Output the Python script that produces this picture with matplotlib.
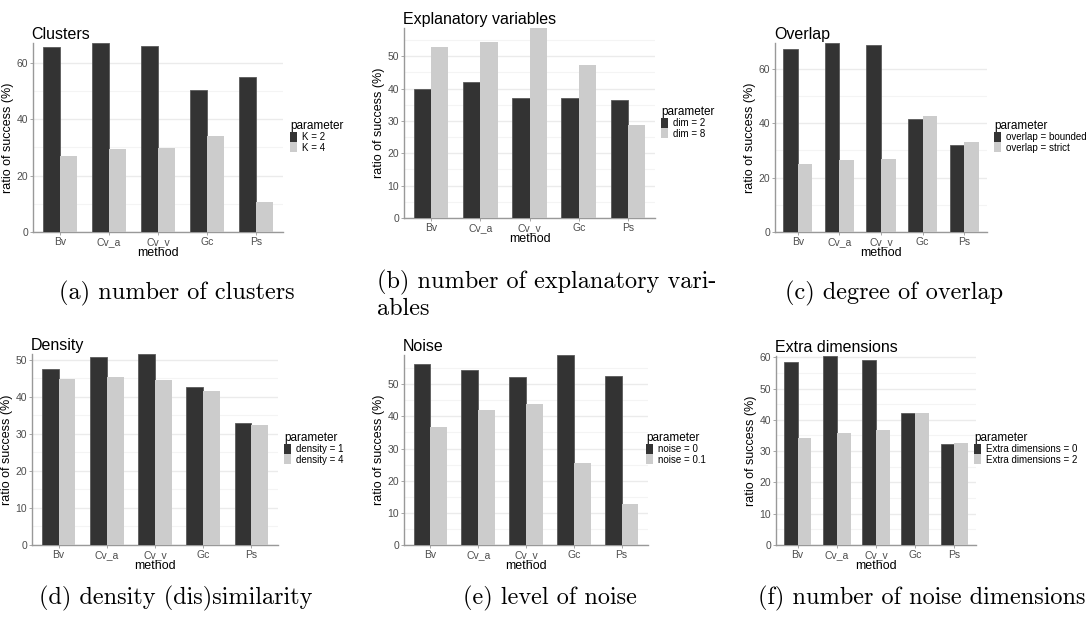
import numpy as np
import matplotlib
matplotlib.use("Agg")
import matplotlib.pyplot as plt
from matplotlib.patches import Patch
from matplotlib.ticker import MultipleLocator

methods = ["Bv", "Cv_a", "Cv_v", "Gc", "Ps"]

# values (ratio of success, %)
clusters_k2 = [65.7, 67.0, 66.1, 50.4, 54.8]
clusters_k4 = [26.9, 29.3, 29.9, 34.0, 10.6]
expl_dim2 = [39.7, 42.0, 37.2, 37.2, 36.6]
expl_dim8 = [52.8, 54.4, 58.7, 47.2, 28.8]
overlap_bounded = [67.2, 69.4, 68.8, 41.5, 32.1]
overlap_strict = [24.9, 26.5, 26.7, 42.7, 33.0]
density_1 = [47.5, 50.9, 51.6, 42.8, 32.9]
density_4 = [44.9, 45.4, 44.5, 41.6, 32.5]
noise_0 = [56.2, 54.5, 52.4, 59.1, 52.6]
noise_01 = [36.6, 42.0, 43.9, 25.6, 12.8]
extra_0 = [58.4, 60.4, 59.2, 42.2, 32.4]
extra_2 = [34.1, 35.9, 36.9, 42.2, 32.7]

panels = [
    ("Clusters", ["K = 2", "K = 4"], clusters_k2, clusters_k4, 20,
     "(a) number of clusters"),
    ("Explanatory variables", ["dim = 2", "dim = 8"], expl_dim2, expl_dim8, 10,
     "(b) number of explanatory vari-\nables"),
    ("Overlap", ["overlap = bounded", "overlap = strict"], overlap_bounded,
     overlap_strict, 20, "(c) degree of overlap"),
    ("Density", ["density = 1", "density = 4"], density_1, density_4, 10,
     "(d) density (dis)similarity"),
    ("Noise", ["noise = 0", "noise = 0.1"], noise_0, noise_01, 10,
     "(e) level of noise"),
    ("Extra dimensions", ["Extra dimensions = 0", "Extra dimensions = 2"],
     extra_0, extra_2, 10, "(f) number of noise dimensions"),
]

W, H = 1092, 617
# axes boxes in pixels: left, top, right, bottom
boxes = [(33, 43, 283, 232), (404, 28, 655, 218), (775, 43, 987, 232),
         (32, 354, 278, 545), (404, 355, 648, 545), (776, 356, 976, 545)]
legend_pos = [(290, 120), (661, 106), (994, 120),
              (284, 432), (646, 432), (974, 432)]
caption_pos = [(177, 293, "center"), (377, 295, "left"), (894, 293, "center"),
               (176, 598, "center"), (550, 598, "center"), (922, 598, "center")]

DARK = "#333333"
LIGHT = "#CCCCCC"
GRID = "#EBEBEB"
SANS = "Liberation Sans"

fig = plt.figure(figsize=(W / 100, H / 100), dpi=100)

for (title, labels, s1, s2, major, caption), box, lp, cp in zip(
        panels, boxes, legend_pos, caption_pos):
    l, t, r, b = box
    ax = fig.add_axes([l / W, 1 - b / H, (r - l) / W, (b - t) / H])
    x = np.arange(len(methods))
    w = 0.35
    ax.bar(x - w / 2, s1, w, color=DARK, edgecolor="#5a5a5a", linewidth=0.6,
           zorder=3)
    ax.bar(x + w / 2, s2, w, color=LIGHT, edgecolor="none", zorder=3)

    top = max(max(s1), max(s2))
    ax.set_ylim(0, top)
    ax.set_xlim(-0.55, len(methods) - 0.45)
    ax.yaxis.set_major_locator(MultipleLocator(major))
    ax.yaxis.set_minor_locator(MultipleLocator(major / 2))
    ax.grid(axis="y", which="major", color=GRID, linewidth=1.0, zorder=0)
    ax.grid(axis="y", which="minor", color="#F4F4F4", linewidth=0.8, zorder=0)
    ax.set_axisbelow(True)

    ax.set_xticks(x)
    ax.set_xticklabels(methods)
    ax.tick_params(axis="both", which="major", length=2, width=0.6,
                   color="#999999", labelcolor="#4D4D4D", labelsize=7.5,
                   pad=1.5)
    ax.tick_params(axis="y", which="minor", length=0)
    for lab in ax.get_xticklabels() + ax.get_yticklabels():
        lab.set_fontfamily(SANS)

    for side in ["top", "right"]:
        ax.spines[side].set_visible(False)
    for side in ["left", "bottom"]:
        ax.spines[side].set_color("#999999")
        ax.spines[side].set_linewidth(1.0)

    ax.set_xlabel("method", fontsize=9, fontfamily=SANS, labelpad=0)
    ax.set_ylabel("ratio of success (%)", fontsize=9, fontfamily=SANS,
                  labelpad=2)
    ax.set_title(title, fontsize=11.5, fontfamily=SANS, loc="left", pad=3,
                 x=-0.005)

    handles = [Patch(facecolor=DARK, edgecolor="none"),
               Patch(facecolor=LIGHT, edgecolor="none")]
    leg = fig.legend(handles, labels, title="parameter",
                     loc="upper left",
                     bbox_to_anchor=(lp[0] / W, 1 - lp[1] / H),
                     frameon=False, title_fontsize=8.5,
                     handlelength=0.75, handleheight=1.2, handletextpad=0.5,
                     labelspacing=0.0, borderpad=0, borderaxespad=0,
                     alignment="left", prop={"family": SANS, "size": 7})
    leg.get_title().set_fontfamily(SANS)

    fig.text(cp[0] / W, 1 - cp[1] / H, caption, ha=cp[2], va="center",
             fontsize=17.5, fontfamily="cmr10", linespacing=1.2)

fig.savefig("out.png", dpi=100)
